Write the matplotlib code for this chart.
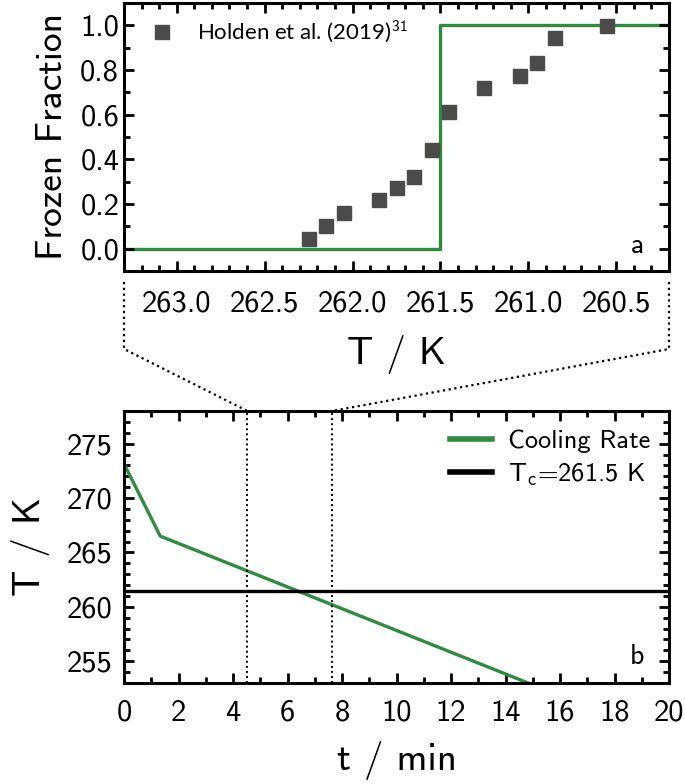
import numpy as np
import matplotlib
matplotlib.use("Agg")
import matplotlib.pyplot as plt
from matplotlib.lines import Line2D
from matplotlib.ticker import MultipleLocator, FormatStrFormatter

plt.rcParams['font.family'] = ['cmss10', 'DejaVu Sans']
plt.rcParams['mathtext.fontset'] = 'custom'
plt.rcParams['mathtext.rm'] = 'cmss10'
plt.rcParams['mathtext.it'] = 'cmss10'
plt.rcParams['axes.unicode_minus'] = False

# Holden et al. (2019) frozen fraction data
holden_T = [262.25, 262.15, 262.05, 261.85, 261.75, 261.65, 261.55,
            261.45, 261.25, 261.05, 260.95, 260.85, 260.55]
holden_frac = [0.045, 0.10, 0.16, 0.22, 0.27, 0.32, 0.44,
               0.61, 0.72, 0.775, 0.83, 0.945, 0.995]

# critical temperature used by the model
T_c = 261.5

# cooling rate profile
cool_t = [0.0, 1.33, 15.0]
cool_T = [273.15, 266.5, 252.83]

green = '#2e8b3f'
grey = '#4b4b4b'
dots = (0, (1, 1.6))

fig = plt.figure(figsize=(6.85, 7.84), dpi=100)
W, H = 685.0, 784.0
ax1 = fig.add_axes([124 / W, 1 - 271 / H, 545 / W, 268 / H])
ax2 = fig.add_axes([124 / W, 1 - 683 / H, 545 / W, 272 / H])

# ---- panel a ----
xlo, xhi = 263.3, 260.2
ax1.plot(holden_T, holden_frac, 's', color=grey, markersize=10, label='Holden et al. (2019)$^{31}$')
ax1.plot([xlo, T_c, T_c, xhi], [0, 0, 1, 1], color=green, lw=2.4, zorder=1)
ax1.set_xlim(xlo, xhi)
ax1.set_ylim(-0.1, 1.1)
ax1.xaxis.set_major_locator(MultipleLocator(0.5))
ax1.xaxis.set_minor_locator(MultipleLocator(0.1))
ax1.yaxis.set_major_locator(MultipleLocator(0.2))
ax1.yaxis.set_minor_locator(MultipleLocator(0.1))
ax1.xaxis.set_major_formatter(FormatStrFormatter('%.1f'))
ax1.yaxis.set_major_formatter(FormatStrFormatter('%.1f'))
ax1.set_ylabel('Frozen Fraction', fontsize=27, labelpad=8)
ax1.set_xlabel('T / K', fontsize=28, labelpad=13)
ax1.text(0.955, 0.05, 'a', transform=ax1.transAxes, fontsize=20, ha='right', va='bottom')
ax1.legend(loc='upper left', frameon=False, handletextpad=0.6,
           borderaxespad=0.3, prop={'family': 'Lato', 'size': 16})

# ---- panel b ----
ax2.plot(cool_t, cool_T, color=green, lw=2.4, label='Cooling Rate')
ax2.axhline(T_c, color='black', lw=2.4, label='T$_{c}$=261.5 K')
ax2.set_xlim(0, 20)
ax2.set_ylim(253, 278)
ax2.xaxis.set_major_locator(MultipleLocator(2))
ax2.xaxis.set_minor_locator(MultipleLocator(1))
ax2.yaxis.set_major_locator(MultipleLocator(5))
ax2.yaxis.set_minor_locator(MultipleLocator(1))
ax2.set_xlabel('t / min', fontsize=28, labelpad=10)
ax2.set_ylabel('T / K', fontsize=28, labelpad=12)
ax2.text(0.955, 0.05, 'b', transform=ax2.transAxes, fontsize=20, ha='right', va='bottom')
leg2 = ax2.legend(loc='upper right', frameon=False, fontsize=19, handlelength=1.6,
                  handletextpad=0.6, borderaxespad=0.3, labelspacing=0.3)
for h in leg2.get_lines():
    h.set_linewidth(4.0)

for ax in (ax1, ax2):
    for s in ax.spines.values():
        s.set_linewidth(2.2)
    ax.tick_params(which='both', direction='in', top=True, right=True, width=2.0)
    ax.tick_params(which='major', length=7, labelsize=22)
    ax.tick_params(which='minor', length=4)
ax1.tick_params(axis='x', which='major', pad=14)
ax2.tick_params(axis='x', which='major', pad=12)
ax2.tick_params(axis='y', which='major', pad=8)

# times at which the cooling curve crosses the panel a temperature limits
t_left = np.interp(xlo, cool_T[::-1], cool_t[::-1])
t_right = np.interp(xhi, cool_T[::-1], cool_t[::-1])
for tv in (t_left, t_right):
    ax2.axvline(tv, color='black', ls=dots, lw=1.4)

# zoom connectors between the panels
to_fig = fig.transFigure.inverted()
for ax_x, tv in ((0, t_left), (1, t_right)):
    x0, y0 = to_fig.transform(ax1.transAxes.transform((ax_x, 0)))
    xe, ye = to_fig.transform(ax2.transData.transform((tv, 278)))
    xs = [x0, x0, xe]
    ys = [y0 - 11 / H, 1 - 349 / H, ye]
    fig.add_artist(Line2D(xs, ys, transform=fig.transFigure, color='black', ls=dots, lw=1.6))

fig.savefig('out.png', dpi=100)
